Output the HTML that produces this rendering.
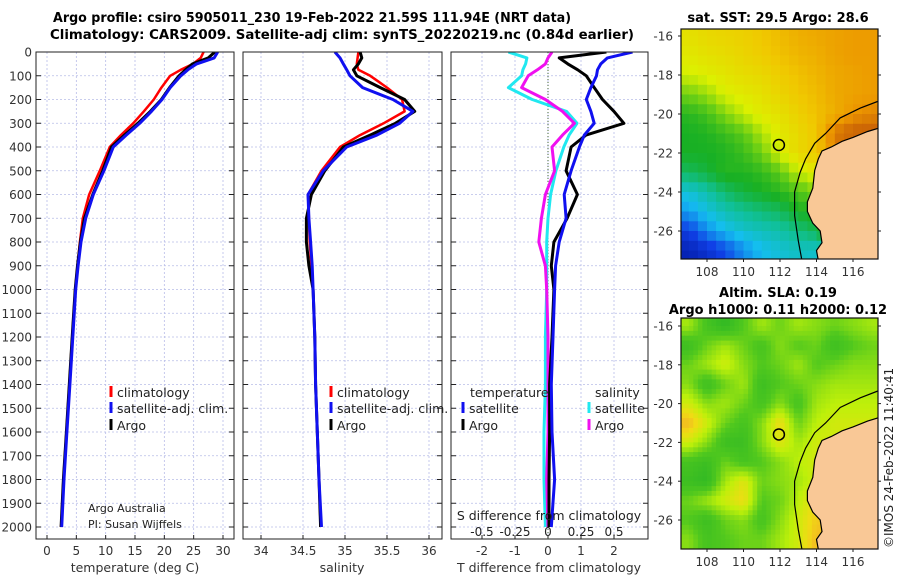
<!DOCTYPE html>
<html><head><meta charset="utf-8"><style>
html,body{margin:0;padding:0;background:#fff;width:900px;height:580px;overflow:hidden}
svg text{font-family:"DejaVu Sans","Liberation Sans",sans-serif}
</style></head><body>
<svg id="fig" width="900" height="580" xmlns="http://www.w3.org/2000/svg">
<text x="312" y="22" text-anchor="middle" font-size="13" font-weight="bold" textLength="518" lengthAdjust="spacingAndGlyphs">Argo profile: csiro 5905011_230 19-Feb-2022 21.59S 111.94E (NRT data)</text>
<text x="342" y="39" text-anchor="middle" font-size="13" font-weight="bold" textLength="584" lengthAdjust="spacingAndGlyphs">Climatology: CARS2009. Satellite-adj clim: synTS_20220219.nc (0.84d earlier)</text>
<text x="778" y="22" text-anchor="middle" font-size="13" font-weight="bold">sat. SST: 29.5 Argo: 28.6</text>
<text x="778" y="297" text-anchor="middle" font-size="13" font-weight="bold">Altim. SLA: 0.19</text>
<text x="778" y="314" text-anchor="middle" font-size="13" font-weight="bold">Argo h1000: 0.11 h2000: 0.12</text>
<text transform="translate(893,548) rotate(-90)" font-size="12" fill="#222">©IMOS 24-Feb-2022 11:40:41</text>
<g id="g"></g>
</svg>
<script>
// ---- data ----
const depths=[0,25,50,75,100,150,200,250,300,350,400,500,600,700,800,900,1000,1200,1400,1600,1800,2000];
const tempClim=[26.7,26.2,24.9,22.8,21.0,19.5,18.2,16.5,14.7,12.6,10.7,9.0,7.2,6.1,5.6,5.2,4.8,4.3,3.8,3.3,2.8,2.4];
const tempSat=[29.1,28.5,25.5,24.0,22.8,21.0,19.6,17.8,15.8,13.5,11.3,9.7,7.9,6.6,5.8,5.3,4.9,4.4,3.9,3.4,2.9,2.5];
const tempArgo=[28.6,27.5,24.8,23.6,22.5,20.9,19.5,17.6,15.5,13.2,11.0,9.5,7.8,6.4,5.7,5.2,4.8,4.3,3.8,3.3,2.8,2.4];
const salClim=[35.16,35.15,35.14,35.16,35.30,35.50,35.68,35.71,35.46,35.18,34.94,34.72,34.56,34.57,34.58,34.60,34.62,34.64,34.65,34.67,34.69,34.71];
const salSat=[34.88,34.94,34.98,35.02,35.06,35.21,35.57,35.81,35.65,35.38,35.02,34.74,34.56,34.57,34.59,34.61,34.62,34.64,34.65,34.67,34.69,34.72];
const salArgo=[35.18,35.20,35.16,35.10,35.14,35.42,35.71,35.83,35.60,35.30,34.98,34.76,34.60,34.54,34.54,34.57,34.62,34.64,34.65,34.67,34.69,34.71];
const dTsat=[2.56,1.8,1.6,1.5,1.47,1.3,1.16,1.3,1.4,1.1,0.95,0.7,0.49,0.55,0.34,0.23,0.2,0.15,0.1,0.12,0.2,0.1];
const dTargo=[1.77,0.34,0.6,0.9,1.16,1.4,1.65,2.0,2.3,1.15,0.7,0.55,0.89,0.58,0.18,0.1,0.18,0.12,0.05,0.05,0.03,0.03];
const dSsat=[-0.30,-0.16,-0.17,-0.19,-0.20,-0.30,-0.12,0.14,0.22,0.16,0.12,0.06,0.02,0.0,-0.01,-0.01,-0.01,-0.02,-0.02,-0.03,-0.03,-0.02];
const dSargo=[0.03,0.0,-0.02,-0.08,-0.15,-0.20,-0.02,0.11,0.20,0.11,0.03,0.05,-0.02,-0.05,-0.07,-0.02,-0.01,0.0,0.0,0.0,-0.01,0.0];
const depthTicks=[0,100,200,300,400,500,600,700,800,900,1000,1100,1200,1300,1400,1500,1600,1700,1800,1900,2000];
const tempTicks=[0,5,10,15,20,25,30];
const salTicks=[34,34.5,35,35.5,36];
const salTickLabels=["34","34.5","35","35.5","36"];
const dTTicks=[-2,-1,0,1,2];
const dSTicks=[-0.5,-0.25,0,0.25,0.5];
const dSTickLabels=["-0.5","-0.25","0","0.25","0.5"];
const lonTicks=[108,110,112,114,116];
const latTicks=[-16,-18,-20,-22,-24,-26];
const argoLon=111.94, argoLat=-21.59;
const sstGrid=[
[0.74,0.76,0.77,0.78,0.80,0.82,0.84,0.85,0.86,0.87,0.87],
[0.72,0.74,0.75,0.77,0.79,0.81,0.83,0.84,0.86,0.87,0.87],
[0.69,0.71,0.73,0.75,0.76,0.79,0.81,0.83,0.85,0.86,0.87],
[0.60,0.64,0.70,0.72,0.74,0.77,0.80,0.82,0.85,0.86,0.87],
[0.52,0.55,0.62,0.68,0.72,0.74,0.78,0.81,0.84,0.88,0.90],
[0.50,0.51,0.54,0.58,0.66,0.72,0.76,0.80,0.92,0.95,0.95],
[0.50,0.50,0.51,0.54,0.60,0.70,0.76,0.80,0.90,0.90,0.90],
[0.45,0.48,0.52,0.51,0.53,0.58,0.68,0.72,0.72,0.72,0.72],
[0.33,0.38,0.44,0.48,0.50,0.52,0.56,0.62,0.68,0.68,0.68],
[0.26,0.32,0.37,0.40,0.43,0.45,0.50,0.52,0.62,0.62,0.62],
[0.14,0.24,0.30,0.34,0.36,0.38,0.42,0.46,0.60,0.60,0.60],
[0.06,0.10,0.16,0.24,0.30,0.33,0.35,0.34,0.36,0.36,0.36]];
const slaGrid=[
[0.66,0.58,0.54,0.60,0.66,0.62,0.66,0.64,0.62,0.64,0.66],
[0.56,0.62,0.66,0.62,0.58,0.64,0.60,0.62,0.56,0.60,0.62],
[0.62,0.66,0.70,0.64,0.60,0.62,0.66,0.60,0.62,0.64,0.64],
[0.64,0.56,0.62,0.66,0.56,0.60,0.62,0.64,0.66,0.66,0.66],
[0.70,0.64,0.66,0.62,0.58,0.64,0.58,0.66,0.68,0.68,0.68],
[0.78,0.70,0.62,0.58,0.64,0.74,0.62,0.68,0.70,0.70,0.70],
[0.70,0.64,0.56,0.56,0.64,0.72,0.66,0.70,0.70,0.70,0.70],
[0.58,0.56,0.62,0.58,0.60,0.64,0.68,0.70,0.70,0.70,0.70],
[0.56,0.54,0.66,0.72,0.62,0.64,0.66,0.70,0.70,0.70,0.70],
[0.62,0.66,0.70,0.74,0.60,0.62,0.68,0.74,0.74,0.74,0.74],
[0.60,0.56,0.62,0.64,0.58,0.64,0.70,0.76,0.76,0.76,0.76],
[0.64,0.58,0.60,0.62,0.62,0.66,0.70,0.78,0.78,0.78,0.78]];
const coastLon=[117.5,116.8,116.0,115.4,114.8,114.3,114.1,113.9,113.8,113.5,113.5,113.8,114.2,114.3,114.0,114.1];
const coastLat=[-20.7,-20.9,-21.2,-21.4,-21.7,-21.9,-22.3,-22.9,-23.8,-24.5,-25.0,-25.6,-26.0,-26.6,-27.0,-27.5];
const shelfLon=[117.5,116.4,115.3,114.5,113.9,113.4,113.1,112.8,112.8,113.0,113.2];
const shelfLat=[-19.3,-19.7,-20.2,-21.0,-21.5,-22.3,-23.0,-24.0,-25.2,-26.5,-27.5];

const NS="http://www.w3.org/2000/svg";
const G=document.getElementById('g');
function mk(tag,attrs,parent){const e=document.createElementNS(NS,tag);for(const k in attrs)e.setAttribute(k,attrs[k]);(parent||G).appendChild(e);return e;}
function txt(x,y,s,attrs,parent){const e=mk('text',Object.assign({x:x,y:y,'font-size':12,fill:'#222'},attrs||{}),parent);e.textContent=s;return e;}

const TOP=52,BOT=539;
const yD=d=>TOP+d*0.2375;
function lin(d0,d1,p0,p1){return v=>p0+(v-d0)*(p1-p0)/(d1-d0);}
const panels=[
 {x0:36,x1:234,sx:lin(0,30,47,223),name:'temperature-panel'},
 {x0:243,x1:442,sx:lin(34,36,261,429),name:'salinity-panel'},
 {x0:451,x1:648,sx:lin(0,2,548,614),name:'difference-panel'}];
const sS=lin(0,0.5,548,614);

panels.forEach((p,i)=>{
  const grp=mk('g',{});
  
  
  const cp=mk('clipPath',{id:'cp'+i},grp);mk('rect',{x:p.x0,y:TOP,width:p.x1-p.x0,height:BOT-TOP},cp);
  depthTicks.forEach(d=>{
    const l=mk('line',{x1:p.x0,x2:p.x1,y1:yD(d),y2:yD(d),stroke:'#b8bde8','stroke-width':0.8,'stroke-dasharray':'2,2'},grp);
    
    
    mk('line',{x1:p.x0,x2:p.x0+5,y1:yD(d),y2:yD(d),stroke:'#222'},grp);
    mk('line',{x1:p.x1-5,x2:p.x1,y1:yD(d),y2:yD(d),stroke:'#222'},grp);
  });
  const ticks=i==0?tempTicks:i==1?salTicks:dTTicks;
  const labels=i==1?salTickLabels:ticks.map(String);
  ticks.forEach((t,k)=>{
    const x=p.sx(t);
    mk('line',{x1:x,x2:x,y1:TOP,y2:BOT,stroke:'#b8bde8','stroke-width':0.8,'stroke-dasharray':'2,2'},grp);
    mk('line',{x1:x,x2:x,y1:BOT-4,y2:BOT,stroke:'#222'},grp);
    const tl=txt(x,555,labels[k],{'text-anchor':'middle','font-size':12,fill:'#333'},grp);
    
    
  });
  p.grp=grp;
});
depthTicks.forEach(d=>{
  const t=txt(32,yD(d)+4.5,String(d),{'text-anchor':'end','font-size':12,fill:'#333'});
  
  
});
mk('line',{x1:548,x2:548,y1:TOP,y2:BOT,stroke:'#4a6a3a','stroke-width':1,'stroke-dasharray':'1,2'},panels[2].grp);

function series(pi,vals,sx,color,w,name){
  const pts=depths.map((d,k)=>sx(vals[k]).toFixed(1)+','+yD(d).toFixed(1)).join(' ');
  const pl=mk('polyline',{points:pts,fill:'none',stroke:color,'stroke-width':w,'stroke-linejoin':'round','clip-path':'url(#cp'+pi+')'},panels[pi].grp);
  
  
}
const sT=panels[0].sx, sSal=panels[1].sx, sDT=panels[2].sx;
series(0,tempClim,sT,'#f00',2.5,'temp-climatology-line');
series(0,tempArgo,sT,'#000',3,'temp-argo-line');
series(0,tempSat,sT,'#1010f0',3,'temp-satellite-line');
series(1,salClim,sSal,'#f00',2.5,'sal-climatology-line');
series(1,salArgo,sSal,'#000',3,'sal-argo-line');
series(1,salSat,sSal,'#1010f0',3,'sal-satellite-line');
series(2,dSsat,sS,'#20e8f0',3,'sdiff-satellite-line');
series(2,dSargo,sS,'#f010f0',3,'sdiff-argo-line');
series(2,dTargo,sDT,'#000',3,'tdiff-argo-line');
series(2,dTsat,sDT,'#1010f0',3,'tdiff-satellite-line');
panels.forEach(p=>{mk('rect',{x:p.x0,y:TOP,width:p.x1-p.x0,height:BOT-TOP,fill:'none',stroke:'#222','stroke-width':1},p.grp);});
dSTicks.forEach((t,k)=>{
  const tl=txt(sS(t),536,dSTickLabels[k],{'text-anchor':'middle','font-size':12,fill:'#222'});
  
  
});
const st=txt(549,520,'S difference from climatology',{'text-anchor':'middle','font-size':12.5});


[[135,'temperature (deg C)','temperature-axis-title'],[342,'salinity','salinity-axis-title'],[549,'T difference from climatology','t-diff-axis-title']].forEach(a=>{
  const t=txt(a[0],572,a[1],{'text-anchor':'middle','font-size':12.5,fill:'#333'});
  
  
});
function leg(x,y,c,label,name){
  const g=mk('g',{});
  
  
  mk('rect',{x:x-1.5,y:y-11,width:3,height:11,fill:c},g);
  txt(x+6,y,label,{'font-size':12.5},g);
}
leg(111,397,'#f00','climatology','legend-climatology');
leg(111,413,'#1010f0','satellite-adj. clim.','legend-satellite');
leg(111,430,'#000','Argo','legend-argo');
leg(331,397,'#f00','climatology','legend-climatology-sal');
leg(331,413,'#1010f0','satellite-adj. clim.','legend-satellite-sal');
leg(331,430,'#000','Argo','legend-argo-sal');
const lt=txt(470,397,'temperature',{'font-size':12.5});
const ls=txt(595,397,'salinity',{'font-size':12.5});
leg(463,413,'#1010f0','satellite','legend-t-satellite');
leg(463,430,'#000','Argo','legend-t-argo');
leg(589,413,'#20e8f0','satellite','legend-s-satellite');
leg(589,430,'#f010f0','Argo','legend-s-argo');
const a1=txt(88,512,'Argo Australia',{'font-size':11});
const a2=txt(88,528,'PI: Susan Wijffels',{'font-size':11});

// ---- maps ----
const stops=[[0,[0,16,150]],[0.15,[16,64,230]],[0.3,[20,190,240]],[0.4,[16,192,150]],[0.5,[24,176,36]],[0.6,[110,208,20]],[0.7,[220,240,0]],[0.8,[240,200,0]],[0.88,[236,150,0]],[1,[170,50,10]]];
function cmap(v){for(let i=1;i<stops.length;i++){if(v<=stops[i][0]){const a=stops[i-1],b=stops[i],f=(v-a[0])/(b[0]-a[0]);return 'rgb('+a[1].map((c,j)=>Math.round(c+(b[1][j]-c)*f)).join(',')+')';}}return 'rgb(170,50,10)';}
const slaStops=[[0.5,[30,176,40]],[0.6,[80,200,30]],[0.68,[190,240,10]],[0.74,[240,220,20]],[0.8,[244,168,40]]];
function smap(v){if(v<=0.5)return 'rgb(30,176,40)';for(let i=1;i<slaStops.length;i++){if(v<=slaStops[i][0]){const a=slaStops[i-1],b=slaStops[i],f=(v-a[0])/(b[0]-a[0]);return 'rgb('+a[1].map((c,j)=>Math.round(c+(b[1][j]-c)*f)).join(',')+')';}}return 'rgb(244,168,40)';}
function sample(grid,fr,fc){
  const R=grid.length,C=grid[0].length;
  fr=Math.max(0,Math.min(R-1,fr));fc=Math.max(0,Math.min(C-1,fc));
  const r0=Math.floor(fr),c0=Math.floor(fc),r1=Math.min(R-1,r0+1),c1=Math.min(C-1,c0+1),a=fr-r0,b=fc-c0;
  return grid[r0][c0]*(1-a)*(1-b)+grid[r0][c1]*(1-a)*b+grid[r1][c0]*a*(1-b)+grid[r1][c1]*a*b;
}
function drawMap(y0,y1,lat16y,lat26y,grid,cfun,name,sub){
  const x0=681,x1=878;
  const mx=lin(108,116,707,853), my=lin(-16,-26,lat16y,lat26y);
  const grp=mk('g',{});
  
  
  const id='mc'+name;const cp=mk('clipPath',{id:id},grp);mk('rect',{x:x0,y:y0,width:x1-x0,height:y1-y0},cp);
  const cells=mk('g',{'clip-path':'url(#'+id+')'},grp);
  const R=grid.length,C=grid[0].length;
  for(let r=0;r<R*sub;r++)for(let c=0;c<C*sub;c++){
    const v=sub==1?grid[r][c]:sample(grid,(r+0.5)/sub-0.5,(c+0.5)/sub-0.5);
    const lon=106.5+c/sub,lat=-15.5-r/sub;
    const cx=mx(lon),cy=my(lat);
    const cell=mk('rect',{x:cx.toFixed(1),y:cy.toFixed(1),width:(mx(lon+1/sub)-cx+0.6).toFixed(1),height:(my(lat-1/sub)-cy+0.6).toFixed(1),fill:cfun(v)},cells);
    
    
  }
  const land=coastLon.map((l,k)=>mx(l).toFixed(1)+','+my(coastLat[k]).toFixed(1)).join(' ')+' '+mx(118)+','+my(-28)+' '+mx(118)+','+my(-20.7);
  const lp=mk('polygon',{points:land,fill:'#f9c896',stroke:'#000','stroke-width':1.2},cells);
  
  
  const sh=mk('polyline',{points:shelfLon.map((l,k)=>mx(l).toFixed(1)+','+my(shelfLat[k]).toFixed(1)).join(' '),fill:'none',stroke:'#000','stroke-width':1.2},cells);
  
  
  const ci=mk('circle',{cx:mx(argoLon),cy:my(argoLat),r:5.5,fill:'none',stroke:'#000','stroke-width':1.5},grp);
  
  
  mk('rect',{x:x0,y:y0,width:x1-x0,height:y1-y0,fill:'none',stroke:'#111','stroke-width':1.2},grp);
  lonTicks.forEach(l=>{mk('line',{x1:mx(l),x2:mx(l),y1:y1,y2:y1+3,stroke:'#222'},grp);
    const t=txt(mx(l),y1+17,String(l),{'text-anchor':'middle','font-size':12,fill:'#333'},grp);
    
    });
  latTicks.forEach(l=>{mk('line',{x1:x0-3,x2:x0,y1:my(l),y2:my(l),stroke:'#222'},grp);
    mk('line',{x1:x1,x2:x1+3,y1:my(l),y2:my(l),stroke:'#222'},grp);
    const t=txt(x0-8,my(l)+4.5,String(l),{'text-anchor':'end','font-size':12,fill:'#333'},grp);
    
    });
}
drawMap(29,259,36,231,sstGrid,cmap,'sst-map',2);
drawMap(318,549,326,520,slaGrid,smap,'sla-map',4);
</script>
</body></html>
